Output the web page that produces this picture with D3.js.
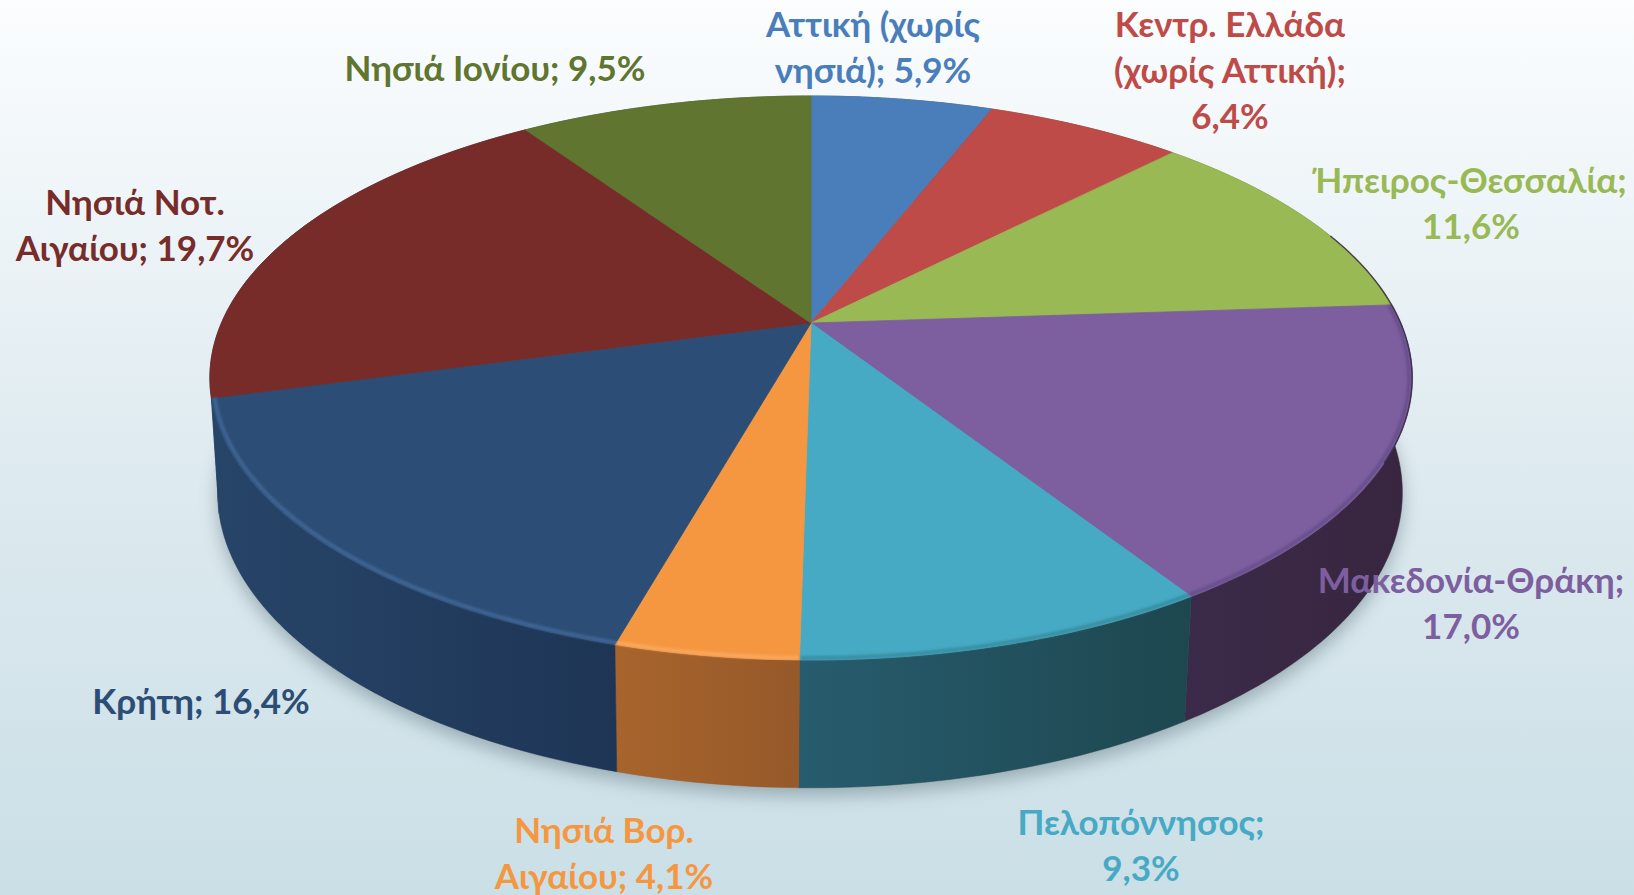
<!DOCTYPE html>
<html>
<head>
<meta charset="utf-8">
<script src="https://cdn.jsdelivr.net/npm/d3@7"></script>
<style>
    html, body { margin: 0; padding: 0; overflow: hidden; }
    text { font-family: Lato, "Open Sans", sans-serif; font-weight: 700; font-size: 35px; text-anchor: middle; }
</style>
</head>
<body>
<div id="vis"></div>
<script>
var regions = ['Αττική (χωρίς νησιά)', 'Κεντρ. Ελλάδα (χωρίς Αττική)', 'Ήπειρος-Θεσσαλία', 'Μακεδονία-Θράκη',
    'Πελοπόννησος', 'Νησιά Βορ. Αιγαίου', 'Κρήτη', 'Νησιά Νοτ. Αιγαίου', 'Νησιά Ιονίου'];
var shares = [5.9, 6.4, 11.6, 17.0, 9.3, 4.1, 16.4, 19.7, 9.5];
var labelLines = [
    ['Αττική (χωρίς', 'νησιά); 5,9%'],
    ['Κεντρ. Ελλάδα', '(χωρίς Αττική);', '6,4%'],
    ['Ήπειρος-Θεσσαλία;', '11,6%'],
    ['Μακεδονία-Θράκη;', '17,0%'],
    ['Πελοπόννησος;', '9,3%'],
    ['Νησιά Βορ.', 'Αιγαίου; 4,1%'],
    ['Κρήτη; 16,4%'],
    ['Νησιά Νοτ.', 'Αιγαίου; 19,7%'],
    ['Νησιά Ιονίου; 9,5%']
];
var topColors = ['#4a7ebb', '#be4b48', '#98b954', '#7d5fa0', '#46aac5', '#f59741', '#2c4d75', '#772c2a', '#5f7530'];
// the maroon wall only shows as a sliver beside the navy one, so it takes the navy colour
var wallLeft = ['#2c4a70', '#712d2b', '#5a6e32', '#3b2a49', '#275c6e', '#a8642c', '#274569', '#274569', '#38451c'];
var wallRight = ['#2c4a70', '#712d2b', '#5a6e32', '#38263f', '#1e474f', '#96592a', '#1e3555', '#274569', '#38451c'];
var rimColors = ['none', 'none', 'none', '#5d4680', '#33808f', '#fbb06e', '#4a72a5', 'none', 'none'];

var width = 1634;
var height = 895;

// perspective view of the disc: top face and bottom edge
var topDisc = { cx: 811, cy: 323, a: 589.6, b: 271.3, p: 0.195 };
var bottomDisc = { cx: 810, cy: 435, a: 581, b: 284, p: 0.195 };

function project(disc, angle, r) {
    var u = r * Math.sin(angle);
    var v = -r * Math.cos(angle);
    var w = 1 - disc.p * v;
    return [disc.cx + disc.a * u / w, disc.cy + disc.b * v / w];
}

function arcPoints(disc, d, r) {
    var n = Math.max(2, Math.ceil((d.endAngle - d.startAngle) * 60));
    return d3.range(n + 1).map(function(i) {
        return project(disc, d.startAngle + (d.endAngle - d.startAngle) * i / n, r);
    });
}

var svg = d3.select('#vis').append('svg')
    .attr('width', width)
    .attr('height', height)
    .style('display', 'block');

var defs = svg.append('defs');

var bg = defs.append('linearGradient').attr('id', 'bg').attr('x1', 0).attr('y1', 0).attr('x2', 0).attr('y2', 1);
bg.append('stop').attr('offset', '0%').attr('stop-color', '#fbfdfe');
bg.append('stop').attr('offset', '50%').attr('stop-color', '#dfebf0');
bg.append('stop').attr('offset', '100%').attr('stop-color', '#cadfe6');

defs.append('filter').attr('id', 'shadow')
    .attr('x', '-10%').attr('y', '-10%').attr('width', '120%').attr('height', '120%')
    .append('feGaussianBlur').attr('stdDeviation', 9);
defs.append('filter').attr('id', 'soft')
    .attr('x', '-10%').attr('y', '-10%').attr('width', '120%').attr('height', '120%')
    .append('feGaussianBlur').attr('stdDeviation', 1.6);

svg.append('rect').attr('width', width).attr('height', height).attr('fill', 'url(#bg)');

var line = d3.line();
var pie = d3.pie().sort(null).startAngle(0).endAngle(2 * Math.PI);
var slices = pie(shares);

// shadow under the disc
var fullCircle = { startAngle: 0, endAngle: 2 * Math.PI };
svg.append('path')
    .attr('d', line(arcPoints(bottomDisc, fullCircle, 1)) + 'Z')
    .attr('transform', 'translate(0, 8)')
    .attr('fill', '#60757f')
    .attr('opacity', 0.5)
    .attr('filter', 'url(#shadow)');

// walls
slices.forEach(function(d, i) {
    var gradient = defs.append('linearGradient').attr('id', 'wall' + i);
    gradient.append('stop').attr('offset', '0%').attr('stop-color', wallLeft[i]);
    gradient.append('stop').attr('offset', '100%').attr('stop-color', wallRight[i]);
});

svg.append('g').selectAll('path').data(slices).enter().append('path')
    .attr('d', function(d) {
        return line(arcPoints(topDisc, d, 1).concat(arcPoints(bottomDisc, d, 1).reverse())) + 'Z';
    })
    .attr('fill', function(d, i) { return 'url(#wall' + i + ')'; })
    .attr('stroke', function(d, i) { return wallRight[i]; })
    .attr('stroke-width', 0.5);

// top face
svg.append('g').selectAll('path').data(slices).enter().append('path')
    .attr('d', function(d) {
        return line([[topDisc.cx, topDisc.cy]].concat(arcPoints(topDisc, d, 1))) + 'Z';
    })
    .attr('fill', function(d, i) { return topColors[i]; })
    .attr('stroke', function(d, i) { return topColors[i]; })
    .attr('stroke-width', 0.8);

// soft light rim along the front edge
svg.append('g').selectAll('path').data(slices).enter().append('path')
    .attr('d', function(d) { return line(arcPoints(topDisc, d, 0.995)); })
    .attr('fill', 'none')
    .attr('stroke', function(d, i) { return rimColors[i]; })
    .attr('stroke-width', 3)
    .attr('opacity', 0.85)
    .attr('filter', 'url(#soft)');

// thin dark edge on the right side of the disc
var rightEdge = { startAngle: 70 * Math.PI / 180, endAngle: 118 * Math.PI / 180 };
svg.append('path')
    .attr('d', line(arcPoints(topDisc, rightEdge, 1)))
    .attr('fill', 'none')
    .attr('stroke', '#38263f')
    .attr('stroke-width', 1.5)
    .attr('opacity', 0.8);

// labels, placed off the slices as in the original layout
var labelX = [873, 1230, 1471, 1471, 1141, 604, 201, 135, 495];
var labelY = [26, 26, 182, 582, 824, 832, 703, 204, 70];
var lineHeight = 46;

var labels = svg.append('g').selectAll('text').data(labelLines).enter().append('text')
    .attr('x', function(d, i) { return labelX[i]; })
    .attr('y', function(d, i) { return labelY[i] + 11; })
    .attr('fill', function(d, i) { return topColors[i]; });

labels.selectAll('tspan').data(function(d) { return d; }).enter().append('tspan')
    .attr('x', function() { return d3.select(this.parentNode).attr('x'); })
    .attr('dy', function(d, i) { return i === 0 ? 0 : lineHeight; })
    .text(function(d) { return d; });
</script>
</body>
</html>
